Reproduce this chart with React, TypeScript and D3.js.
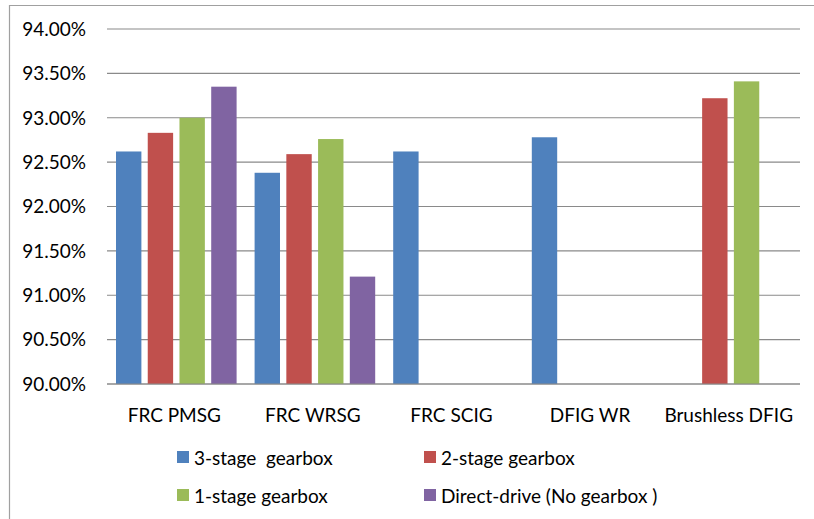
import React from "react";
import * as d3 from "d3";

const categories = ["FRC PMSG", "FRC WRSG", "FRC SCIG", "DFIG WR", "Brushless DFIG"];
const seriesNames = ["3-stage  gearbox", "2-stage gearbox", "1-stage gearbox", "Direct-drive (No gearbox )"];
const threeStage: (number | null)[] = [92.62, 92.38, 92.62, 92.78, null];
const twoStage: (number | null)[] = [92.83, 92.59, null, null, 93.22];
const oneStage: (number | null)[] = [93.0, 92.76, null, null, 93.41];
const directDrive: (number | null)[] = [93.35, 91.21, null, null, null];
const yTicks = [90, 90.5, 91, 91.5, 92, 92.5, 93, 93.5, 94];
const colors = ["#4F81BD", "#C0504D", "#9BBB59", "#8064A2"];

const series = [threeStage, twoStage, oneStage, directDrive];

export default function App() {
  const W = 814, H = 519;
  const left = 107, right = 800, top = 29, bottom = 384;
  const x = d3.scaleBand<string>().domain(categories).range([left, right]).paddingInner(0).paddingOuter(0);
  const y = d3.scaleLinear().domain([90, 94]).range([bottom, top]);
  const inner = d3.scaleBand<number>().domain([0, 1, 2, 3]).range([9, x.bandwidth() - 9]).paddingInner(0.2).paddingOuter(0);
  const font = "Lato, 'Open Sans', sans-serif";
  const fs = 19;

  return (
    <svg width={W} height={H} style={{ position: "absolute", left: 0, top: 0 }} fontFamily={font}>
      <rect x={0} y={0} width={W} height={H} fill="#fff" />
      <path d={`M9.5,${H} V5.5 H${W}`} fill="none" stroke="#a0a0a0" strokeWidth={1.2} />
      {yTicks.map((t) => (
        <g key={t}>
          <line x1={left} x2={right} y1={y(t)} y2={y(t)} stroke="#8a8a8a" strokeWidth={1.2} />
          <text x={86} y={y(t)} dy="0.36em" textAnchor="end" fontSize={fs} fill="#000">
            {t.toFixed(2) + "%"}
          </text>
        </g>
      ))}
      {series.map((vals, si) =>
        vals.map((v, ci) =>
          v == null ? null : (
            <rect
              key={`${si}-${ci}`}
              x={(x(categories[ci]) as number) + (inner(si) as number)}
              y={y(v)}
              width={inner.bandwidth()}
              height={y(90) - y(v)}
              fill={colors[si]}
            />
          )
        )
      )}
      <line x1={left} x2={right} y1={y(90)} y2={y(90)} stroke="#8a8a8a" strokeWidth={1.2} />
      {categories.map((c) => (
        <text key={c} x={(x(c) as number) + x.bandwidth() / 2 - 2} y={415} dy="0.36em" textAnchor="middle" fontSize={fs} fill="#000">
          {c}
        </text>
      ))}
      {seriesNames.map((n, i) => {
        const lx = i % 2 === 0 ? 177 : 424;
        const ly = i < 2 ? 457 : 495;
        return (
          <g key={n}>
            <rect x={lx} y={ly - 6} width={12} height={12} fill={colors[i]} />
            <text x={lx + 17} y={ly + 1} dy="0.36em" fontSize={fs} fill="#000" style={{ whiteSpace: "pre" }}>
              {n}
            </text>
          </g>
        );
      })}
    </svg>
  );
}
